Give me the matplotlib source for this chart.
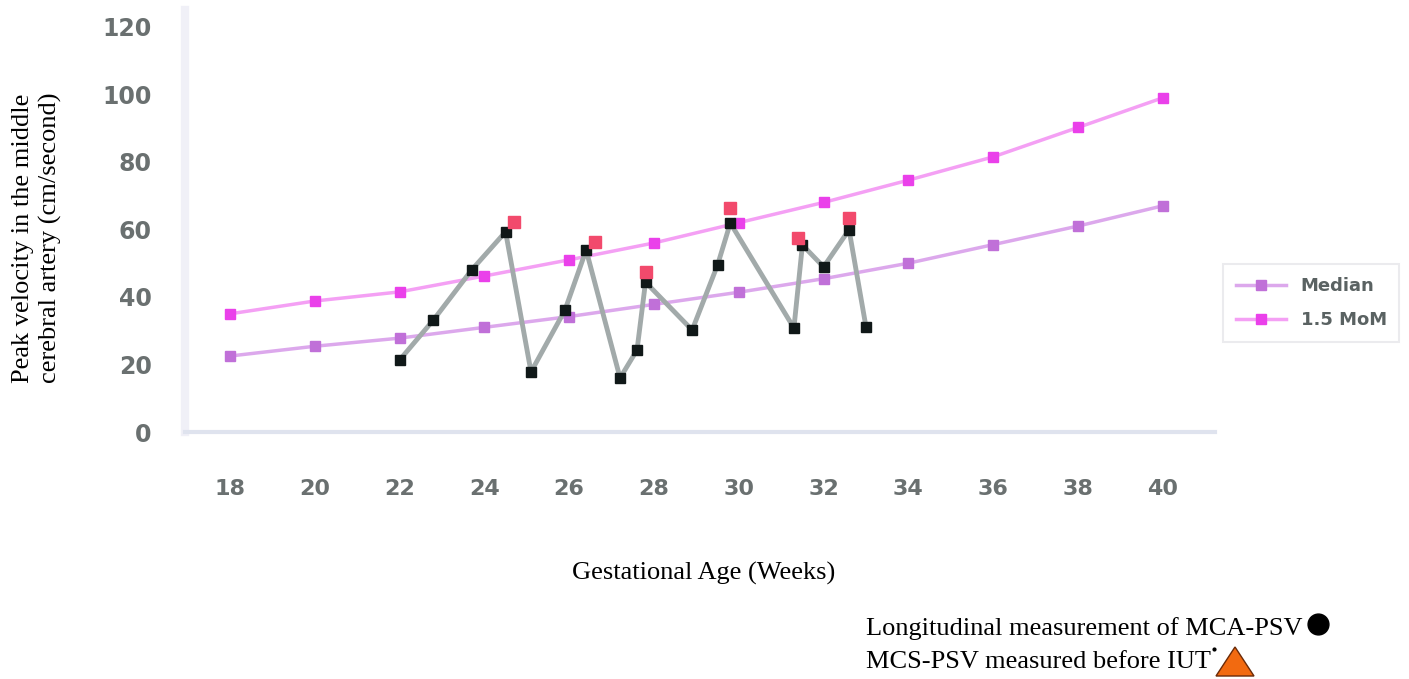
import matplotlib
matplotlib.use("Agg")
import matplotlib.pyplot as plt
from matplotlib.lines import Line2D
from matplotlib.patches import Polygon

# ---- data ----
weeks = [18, 20, 22, 24, 26, 28, 30, 32, 34, 36, 38, 40]
median = [22.5, 25.4, 27.8, 31.0, 34.2, 37.8, 41.4, 45.4, 50.0, 55.5, 61.0, 67.0]
mom15 = [35.0, 38.8, 41.5, 46.2, 51.0, 56.0, 62.0, 68.0, 74.6, 81.5, 90.2, 99.0]

long_weeks = [22.0, 22.8, 23.7, 24.5, 25.1, 25.9, 26.4, 27.2, 27.6, 27.8,
              28.9, 29.5, 29.8, 31.3, 31.5, 32.0, 32.6, 33.0]
long_vals = [21.3, 33.2, 48.0, 59.3, 17.8, 36.1, 53.9, 16.0, 24.3, 44.4,
             30.2, 49.5, 61.9, 30.8, 55.4, 48.9, 59.9, 31.1]

iut_weeks = [24.7, 26.6, 27.8, 29.8, 31.4, 32.6]
iut_vals = [62.2, 56.3, 47.4, 66.4, 57.5, 63.4]

yticks = [0, 20, 40, 60, 80, 100, 120]
xticks = [18, 20, 22, 24, 26, 28, 30, 32, 34, 36, 38, 40]
legend_labels = ["Median", "1.5 MoM"]

W, H = 1409, 679
fig = plt.figure(figsize=(W / 100, H / 100), dpi=100)
ax = fig.add_axes([185 / W, 1 - 432 / H, (1215 - 185) / W, (432 - 10) / H])

ax.plot(weeks, median, color="#dca8ec", lw=2.5, marker="s", ms=7,
        mfc="#c070d8", mec="#c070d8", zorder=2)
ax.plot(weeks, mom15, color="#f4a0f4", lw=2.5, marker="s", ms=7,
        mfc="#ea40ea", mec="#ea40ea", zorder=2)
ax.plot(long_weeks, long_vals, color="#a2aaaa", lw=3.5, marker="s", ms=7,
        mfc="#101818", mec="#101818", zorder=3)
ax.plot(iut_weeks, iut_vals, ls="none", marker="s", ms=8,
        mfc="#f24a6c", mec="#f24a6c", zorder=4)

ax.set_xlim(16.94, 41.23)
ax.set_ylim(0, 125)
ax.set_xticks(xticks)
ax.set_yticks(yticks)
ax.set_xticklabels([str(t) for t in xticks], fontsize=16, fontweight="bold", color="#6a7070")
ax.set_yticklabels([str(t) for t in yticks], fontsize=17, fontweight="bold", color="#6a7070")
ax.tick_params(axis="x", length=0, pad=34)
ax.tick_params(axis="y", length=0, pad=24)
for s in ["top", "right"]:
    ax.spines[s].set_visible(False)
ax.spines["left"].set_color("#f0f0f7")
ax.spines["left"].set_linewidth(6)
ax.spines["bottom"].set_color("#dfe3ee")
ax.spines["bottom"].set_linewidth(3)

handles = [
    Line2D([], [], color="#dca8ec", lw=2.5, marker="s", ms=7, mfc="#c070d8", mec="#c070d8"),
    Line2D([], [], color="#f4a0f4", lw=2.5, marker="s", ms=7, mfc="#ea40ea", mec="#ea40ea"),
]
leg = fig.legend(handles, legend_labels, loc="center left",
                 bbox_to_anchor=(1214 / W, 1 - 303 / H), fontsize=13,
                 frameon=True, fancybox=False, handlelength=2.8,
                 labelspacing=0.9, borderpad=0.7)
leg.get_frame().set_edgecolor("#e6e6ea")
leg.get_frame().set_linewidth(1.5)
for t in leg.get_texts():
    t.set_color("#5a6262")
    t.set_fontweight("bold")

serif = ["Liberation Serif", "DejaVu Serif"]
fig.text(37 / W, 1 - 238 / H, "Peak velocity in the middle\ncerebral artery (cm/second)",
         rotation=90, ha="center", va="center", fontsize=19, family=serif,
         linespacing=1.3)
fig.text(704 / W, 1 - 573 / H, "Gestational Age (Weeks)", ha="center", va="center",
         fontsize=19, family=serif)
fig.text(866 / W, 1 - 629 / H, "Longitudinal measurement of MCA-PSV", ha="left",
         va="center", fontsize=19, family=serif)
fig.text(866 / W, 1 - 662 / H, "MCS-PSV measured before IUT", ha="left",
         va="center", fontsize=19, family=serif)

kax = fig.add_axes([0, 0, 1, 1], facecolor="none")
kax.set_xlim(0, W)
kax.set_ylim(H, 0)
kax.axis("off")
kax.plot([1318], [624], marker="o", ms=15, mfc="black", mec="black", ls="none")
kax.add_patch(Polygon([(1216, 676), (1254, 676), (1235, 647)], closed=True,
                      facecolor="#f26a10", edgecolor="#6a2a08", lw=1))
kax.plot([1214], [649], marker="o", ms=2, mfc="black", mec="black", ls="none")

fig.savefig("out.png", dpi=100)
